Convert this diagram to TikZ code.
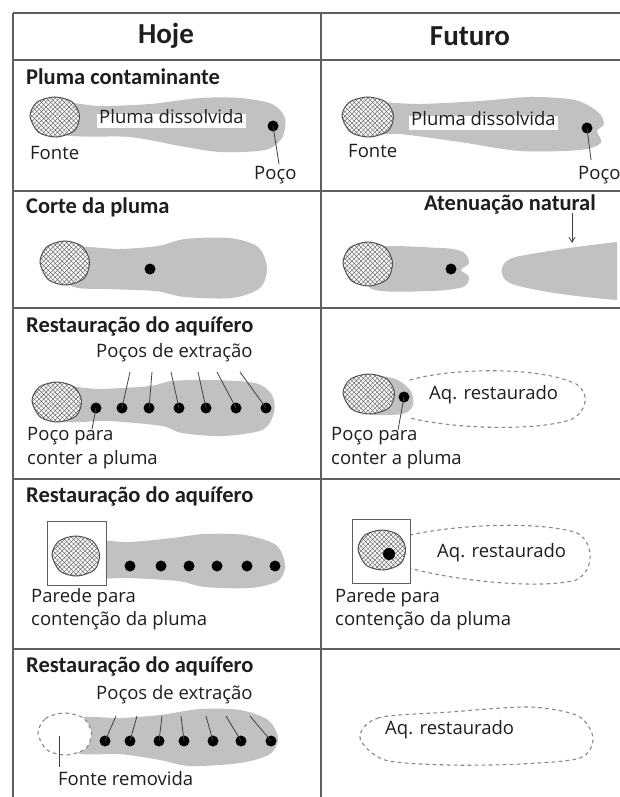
\documentclass[tikz,border=0pt]{standalone}
\usepackage{fontspec}
\setmainfont{Carlito}
\newfontfamily\labelfont{Open Sans}
\usetikzlibrary{patterns,arrows.meta}

% diagonal cross-hatching used for the contaminant sources
\pgfdeclarepatternformonly{srchatch}{\pgfqpoint{-0.5pt}{-0.5pt}}{\pgfqpoint{5pt}{5pt}}{\pgfqpoint{4.6pt}{4.6pt}}{%
  \pgfsetlinewidth{0.45pt}%
  \pgfpathmoveto{\pgfqpoint{-0.2pt}{-0.2pt}}\pgfpathlineto{\pgfqpoint{4.8pt}{4.8pt}}%
  \pgfpathmoveto{\pgfqpoint{-0.2pt}{4.8pt}}\pgfpathlineto{\pgfqpoint{4.8pt}{-0.2pt}}%
  \pgfusepath{stroke}}

\definecolor{plume}{RGB}{193,193,193}
\definecolor{rule}{RGB}{95,95,95}
\definecolor{ink}{RGB}{30,30,30}
\definecolor{hatch}{RGB}{105,105,105}
\definecolor{outline}{RGB}{80,80,80}
\definecolor{restored}{RGB}{135,135,135}

% irregular oval source outline, centre (#1,#2), half-sizes #3 x #4
\newcommand\blobpath[4]{plot[smooth cycle] coordinates {
  ({#1-1.0*#3},{#2-0.05*#4}) ({#1-0.72*#3},{#2-0.74*#4}) ({#1-0.02*#3},{#2-1.0*#4})
  ({#1+0.68*#3},{#2-0.76*#4}) ({#1+0.98*#3},{#2-0.08*#4}) ({#1+0.78*#3},{#2+0.68*#4})
  ({#1+0.06*#3},{#2+1.0*#4}) ({#1-0.66*#3},{#2+0.76*#4})}}
\newcommand\srcblob[4]{%
  \path[fill=white] \blobpath{#1}{#2}{#3}{#4};
  \path[pattern=srchatch, pattern color=hatch] \blobpath{#1}{#2}{#3}{#4};
  \draw[outline, line width=1pt] \blobpath{#1}{#2}{#3}{#4};}

\begin{document}
\begin{tikzpicture}[x=1pt, y=-1pt,
  head/.style={font=\fontsize{29}{31}\selectfont\bfseries, text=ink, inner sep=0},
  title/.style={anchor=west, font=\fontsize{22.5}{24}\selectfont\bfseries, text=ink,
    inner sep=0, text height=0.7em, text depth=0.2em},
  lab/.style={anchor=west, font=\labelfont\fontsize{18.5}{20}\selectfont, text=ink,
    inner sep=0, text height=0.72em, text depth=0.22em},
  tag/.style={lab, fill=white, inner sep=2pt},
  well/.style={circle, fill=black, inner sep=0, minimum size=11pt},
  leader/.style={draw=ink!85, line width=0.8pt},
  tablerule/.style={draw=rule, line width=1.3pt},
  wall/.style={draw=rule, line width=1pt, fill=white},
  restoredline/.style={draw=restored, line width=1.1pt, dash pattern=on 3pt off 4pt, line cap=round}]

\useasboundingbox (0,0) rectangle (620,797);
\fill[white] (0,0) rectangle (620,797);

% ---------- table ----------
\draw[tablerule] (13,13) -- (625,13);
\draw[tablerule] (13,13) -- (13,800);
\draw[tablerule] (321,13) -- (321,800);
\foreach \yy in {60,191,308,479,649} \draw[tablerule] (13,\yy) -- (625,\yy);

\node[head] (hoje) at (166,36) {Hoje};
\node[head] (futuro) at (470,36) {Futuro};

% ---------- row 1: contaminant plume ----------
\node[title] (t1) at (26,82) {Pluma contaminante};
\fill[plume] plot[smooth cycle] coordinates {(60,104) (100,106) (150,104) (200,98) (240,98) (272,104) (285,118) (282,138) (265,150) (220,152) (180,146) (130,137) (60,134)};
\srcblob{55}{117}{25}{20}
\node[tag] (pd1) at (97,121) {Pluma dissolvida};
\node[well] (w1) at (273,126) {};
\coordinate (w1e) at (279,164);
\draw[leader] (w1.center) -- (w1e);
\node[lab] (poco1) at (254,177) {Poço};
\node[lab] (fonte1) at (30,157) {Fonte};

\fill[plume] plot[smooth cycle] coordinates {(365,104) (420,104) (480,101) (530,97) (575,100) (598,112) (604,124) (597,131) (601,143) (580,150) (520,151) (460,142) (400,134) (365,133)};
\srcblob{368}{117}{26}{20}
\node[tag] (pd2) at (409,123) {Pluma dissolvida};
\node[well] (w2) at (587,128) {};
\coordinate (w2e) at (591,160);
\draw[leader] (w2.center) -- (w2e);
\node[lab] (poco2) at (578,177) {Poço};
\node[lab] (fonte2) at (348,155) {Fonte};

% ---------- row 2: plume cut-off ----------
\node[title] (t2) at (26,211) {Corte da pluma};
\fill[plume] plot[smooth cycle] coordinates {(70,249) (120,249) (158,246) (185,239) (230,238) (258,247) (267,268) (260,288) (232,298) (185,297) (155,291) (110,289) (70,285)};
\srcblob{65}{263}{25}{22}
\node[well] (w3) at (150,269) {};

\fill[plume] plot[smooth cycle] coordinates {(370,249) (440,248) (463,252) (469,263) (461,270) (469,277) (463,287) (430,291) (370,288)};
\srcblob{368}{264}{25}{22}
\node[well] (w4) at (451,269) {};
\fill[plume] (617,242) -- (617,300) .. controls (580,297) and (540,292) .. (515,285)
  .. controls (497,280) and (497,262) .. (515,257) .. controls (540,252) and (580,246) .. cycle;
\node[title] (atn) at (424,208) {Atenuação natural};
\coordinate (atnend) at (572,243);
\draw[leader, -{Straight Barb[length=5pt,width=6pt]}] (atn.south -| atnend) -- (atnend);

% ---------- row 3: restoration with extraction wells ----------
\node[title] (t3) at (26,330) {Restauração do aquífero};
\node[lab] (pe3) at (96,355) {Poços de extração};
\fill[plume] plot[smooth cycle] coordinates {(60,388) (100,389) (150,386) (172,381) (210,380) (255,383) (272,395) (274,413) (262,430) (222,436) (182,433) (162,426) (110,421) (60,420)};
\srcblob{57}{402}{25}{20}
\foreach \xx [count=\i] in {96,122,149,179,206,236,266}
  \node[well] (a\i) at (\xx,408) {};
\foreach \i/\xx in {2/130,3/152,4/171,5/198,6/217,7/240} {
  \coordinate (at\i) at (\xx,372);
  \draw[leader] (a\i.center) -- (at\i);
}
\coordinate (a1e) at (92,429);
\draw[leader] (a1.center) -- (a1e);
\node[lab] (pp3) at (27,438) {Poço para};
\node[lab] (cp3) at (27,462) {conter a pluma};

\draw[restoredline] (410,380) .. controls (450,368) and (540,366) .. (576,384)
  .. controls (590,392) and (588,412) .. (570,420) .. controls (530,432) and (450,428) .. (410,418);
\fill[plume] plot[smooth cycle] coordinates {(355,378) (392,378) (410,390) (413,405) (402,414) (365,412)};
\srcblob{369}{394}{26}{20}
\node[well] (r3) at (404,397) {};
\coordinate (r3e) at (398,430);
\draw[leader] (r3.center) -- (r3e);
\node[lab] (aq3) at (429,397) {Aq. restaurado};
\node[lab] (pp3r) at (331,438) {Poço para};
\node[lab] (cp3r) at (331,462) {conter a pluma};

% ---------- row 4: containment wall ----------
\node[title] (t4) at (26,500) {Restauração do aquífero};
\fill[plume] plot[smooth cycle] coordinates {(80,542) (130,542) (172,538) (205,534) (245,535) (276,545) (285,565) (278,581) (250,588) (205,587) (178,581) (130,578) (80,576)};
\draw[wall] (47,521) rectangle (106,585);
\srcblob{76}{556}{24}{20}
\foreach \xx [count=\i] in {130,161,189,217,247,275}
  \node[well] (b\i) at (\xx,566) {};
\node[lab] (pw4) at (31,600) {Parede para};
\node[lab] (cw4) at (31,623) {contenção da pluma};

\draw[restoredline] (410,535) .. controls (450,526) and (530,520) .. (575,532)
  .. controls (594,540) and (596,570) .. (576,580) .. controls (540,590) and (450,580) .. (410,568);
\draw[wall] (352,519) rectangle (410,583);
\srcblob{382}{550}{24}{20}
\node[well, minimum size=12pt] (r4) at (389,554) {};
\node[lab] (aq4) at (437,555) {Aq. restaurado};
\node[lab] (pw4r) at (335,600) {Parede para};
\node[lab] (cw4r) at (335,623) {contenção da pluma};

% ---------- row 5: source removed ----------
\node[title] (t5) at (26,670) {Restauração do aquífero};
\node[lab] (pe5) at (96,697) {Poços de extração};
\fill[plume] plot[smooth cycle] coordinates {(75,719) (120,718) (160,715) (200,709) (240,710) (268,720) (278,738) (270,754) (240,763) (190,766) (160,760) (120,754) (75,752)};
\path[fill=white] \blobpath{65}{734}{27}{21};
\draw[restoredline] \blobpath{65}{734}{27}{21};
\coordinate (src5) at (59,736);
\coordinate (src5e) at (59,767);
\draw[leader] (src5) -- (src5e);
\node[lab] (fr5) at (58,783) {Fonte removida};
\foreach \xx [count=\i] in {105,130,159,184,213,241,271}
  \node[well] (c\i) at (\xx,741) {};
\foreach \i/\xx in {1/116,2/137,3/162,4/181,5/206,6/226,7/250} {
  \coordinate (ct\i) at (\xx,716);
  \draw[leader] (c\i.center) -- (ct\i);
}

\draw[restoredline] plot[smooth cycle] coordinates {(360,738) (378,718) (450,712) (530,707) (578,716) (593,738) (580,758) (520,764) (450,765) (385,760)};
\node[lab] (aq5) at (385,732) {Aq. restaurado};

\end{tikzpicture}
\end{document}
